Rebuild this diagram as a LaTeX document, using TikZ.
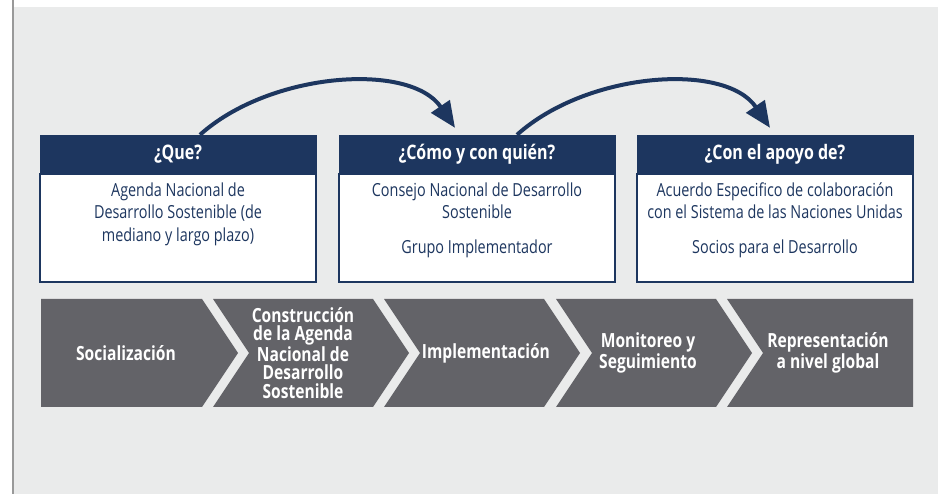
\documentclass[tikz,border=0pt]{standalone}
\usepackage{fontspec}
\setmainfont{Open Sans}[FakeStretch=0.8]
\usetikzlibrary{positioning,arrows.meta}
\definecolor{navy}{HTML}{1D365F}
\definecolor{chevgray}{HTML}{636368}
\definecolor{panel}{HTML}{EAEBEB}
\tikzset{head/.style={fill=navy,draw=navy,text=white,font=\bfseries\fontsize{20pt}{22pt}\selectfont,
                      minimum width=276pt,minimum height=38pt,inner sep=0pt},
         bodybox/.style={fill=white,draw=navy,line width=1.5pt,minimum width=276pt,minimum height=108pt,inner sep=0pt},
         bodytext/.style={text=navy,align=center,font=\fontsize{18pt}{22.5pt}\selectfont,inner sep=0pt},
         steptext/.style={text=white,align=center,font=\bfseries\fontsize{19.5pt}{18.7pt}\selectfont,inner sep=0pt},
         link/.style={navy,line width=4pt,-{Triangle[length=26pt,width=22pt]}}
}
\begin{document}
\begin{tikzpicture}[x=1pt,y=1pt]
  \useasboundingbox(0,0)rectangle(938,-494);
  \fill[panel](13,-7)rectangle(938,-494);
  \draw[gray!80,line width=1.5pt](13,0)--(13,-494);
  % question boxes
  \node[head](q1)at(178,-154){¿Que?};
  \node[head](q2)at(477,-154){¿Cómo y con quién?};
  \node[head](q3)at(775,-154){¿Con el apoyo de?};
  \node[bodybox,below=0pt of q1](b1){};
  \node[bodybox,below=0pt of q2](b2){};
  \node[bodybox,below=0pt of q3](b3){};
  \node[bodytext,below=9pt of b1.north](t1){Agenda Nacional de\\Desarrollo Sostenible (de\\mediano y largo plazo)};
  \node[bodytext,below=9pt of b2.north](t2){Consejo Nacional de Desarrollo\\Sostenible\\[12pt]Grupo Implementador};
  \node[bodytext,below=9pt of b3.north](t3){Acuerdo Especifico de colaboración\\con el Sistema de las Naciones Unidas\\[12pt]Socios para el Desarrollo};
  \draw[link]([xshift=22pt]q1.north)..controls+(70,63)and+(-45,66)..([xshift=-22pt,yshift=7pt]q2.north);
  \draw[link]([xshift=40pt]q2.north)..controls+(70,63)and+(-45,66)..([xshift=-5pt,yshift=7pt]q3.north);
  % process steps
  \fill[chevgray](41,-299)--(202,-299)--(238,-353)--(202,-407)--(41,-407)--cycle;
  \foreach\x in {213,384,556}
     \fill[chevgray](\x,-299)--++(160,0)--++(36,-54)--++(-36,-54)--++(-160,0)--++(36,54)--cycle;
  \fill[chevgray](727,-299)--(913,-299)--(913,-407)--(727,-407)--(763,-353)--cycle;
  \node[steptext](s1)at(126,-353){Socialización};
  \node[steptext](s2)at(303,-353){Construcción\\de la Agenda\\Nacional de\\Desarrollo\\Sostenible};
  \node[steptext](s3)at(486,-353){Implementación};
  \node[steptext](s4)at(648,-353){Monitoreo y\\Seguimiento};
  \node[steptext](s5)at(828,-353){Representación\\a nivel global};
\end{tikzpicture}
\end{document}
